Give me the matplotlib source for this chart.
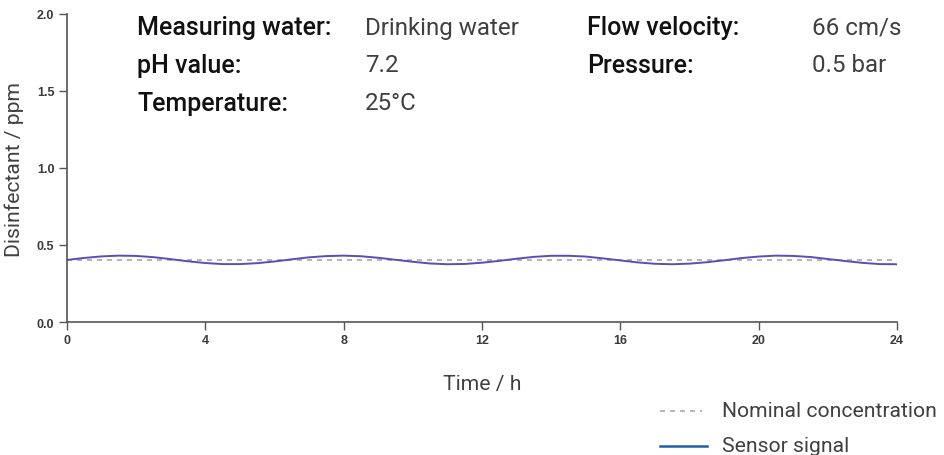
import matplotlib
matplotlib.use("Agg")
import matplotlib.pyplot as plt
from matplotlib.lines import Line2D

# ---- data ----
time_h = [0, 0.5, 1, 1.5, 2, 2.5, 3, 3.5, 4, 4.5, 5, 5.5, 6, 6.5, 7, 7.5, 8, 8.5,
          9, 9.5, 10, 10.5, 11, 11.5, 12, 12.5, 13, 13.5, 14, 14.5, 15, 15.5, 16,
          16.5, 17, 17.5, 18, 18.5, 19, 19.5, 20, 20.5, 21, 21.5, 22, 22.5, 23,
          23.5, 24]
sensor_ppm = [0.403, 0.416, 0.426, 0.431, 0.429, 0.421, 0.408, 0.394, 0.383, 0.376,
              0.376, 0.382, 0.393, 0.407, 0.420, 0.428, 0.431, 0.427, 0.417, 0.404,
              0.391, 0.380, 0.375, 0.377, 0.385, 0.397, 0.411, 0.423, 0.430, 0.430,
              0.425, 0.413, 0.400, 0.387, 0.378, 0.375, 0.379, 0.388, 0.401, 0.415,
              0.425, 0.431, 0.429, 0.422, 0.409, 0.396, 0.384, 0.376, 0.375]
nominal_time = [0, 24]
nominal_ppm = [0.40, 0.40]

x_ticks = [0, 4, 8, 12, 16, 20, 24]
y_ticks = [0.0, 0.5, 1.0, 1.5, 2.0]

info_left = [("Measuring water:", "Drinking water"), ("pH value:", "7.2"),
             ("Temperature:", "25°C")]
info_right = [("Flow velocity:", "66 cm/s"), ("Pressure:", "0.5 bar")]

legend_labels = ["Nominal concentration", "Sensor signal"]

# ---- figure ----
W, H = 945, 456
fig = plt.figure(figsize=(W / 100, H / 100), dpi=100)
fig.patch.set_facecolor("white")
ax = fig.add_axes([67 / W, 1 - 323 / H, (897 - 67) / W, (323 - 15) / H])

ax.plot(nominal_time, nominal_ppm, color="#a8a8a8", lw=1.2, ls=(0, (3, 3)))
ax.plot(time_h, sensor_ppm, color="#5b4cb8", lw=1.4)

ax.set_xlim(0, 24)
ax.set_ylim(0, 2.0)
ax.set_xticks(x_ticks)
ax.set_yticks(y_ticks)
ax.set_xticklabels([str(v) for v in x_ticks])
ax.set_yticklabels([f"{v:.1f}" for v in y_ticks])
for s in ["top", "right"]:
    ax.spines[s].set_visible(False)
for s in ["left", "bottom"]:
    ax.spines[s].set_color("#555555")
    ax.spines[s].set_linewidth(1.2)
ax.tick_params(axis="both", colors="#555555", length=6, width=1.0,
               labelcolor="#3a3a3a", labelsize=9, pad=3)
for lab in ax.get_xticklabels() + ax.get_yticklabels():
    lab.set_fontfamily("Liberation Sans")
    lab.set_fontweight("bold")

txt_kw = dict(family="Roboto", fontweight="normal", color="#404040")

fig.text(14 / W, 1 - 170 / H, "Disinfectant / ppm", rotation=90, ha="center",
         va="center", fontsize=15.2, **txt_kw)
fig.text(482 / W, 1 - 385 / H, "Time / h", ha="center", va="center",
         fontsize=15.2, **txt_kw)

rows_y = [28, 66, 104]
for (lab, val), yy in zip(info_left, rows_y):
    fig.text(137 / W, 1 - yy / H, lab, ha="left", va="center", fontsize=18,
             family="Roboto", fontweight="medium", color="#111111")
    fig.text(365 / W, 1 - yy / H, val, ha="left", va="center", fontsize=17.4,
             **txt_kw)
for (lab, val), yy in zip(info_right, rows_y):
    fig.text(587 / W, 1 - yy / H, lab, ha="left", va="center", fontsize=18,
             family="Roboto", fontweight="medium", color="#111111")
    fig.text(812 / W, 1 - yy / H, val, ha="left", va="center", fontsize=17.4,
             **txt_kw)

# legend drawn manually
fig.add_artist(Line2D([660 / W, 702 / W], [1 - 412 / H, 1 - 412 / H],
                      color="#aaaaaa", lw=1.2, ls=(0, (3, 3))))
fig.add_artist(Line2D([660 / W, 707 / W], [1 - 447 / H, 1 - 447 / H],
                      color="#1f5fa6", lw=1.8))
fig.text(722 / W, 1 - 412 / H, legend_labels[0], ha="left", va="center",
         fontsize=15.2, **txt_kw)
fig.text(722 / W, 1 - 447 / H, legend_labels[1], ha="left", va="center",
         fontsize=15.2, **txt_kw)

fig.savefig("out.png", dpi=100, facecolor="white")
